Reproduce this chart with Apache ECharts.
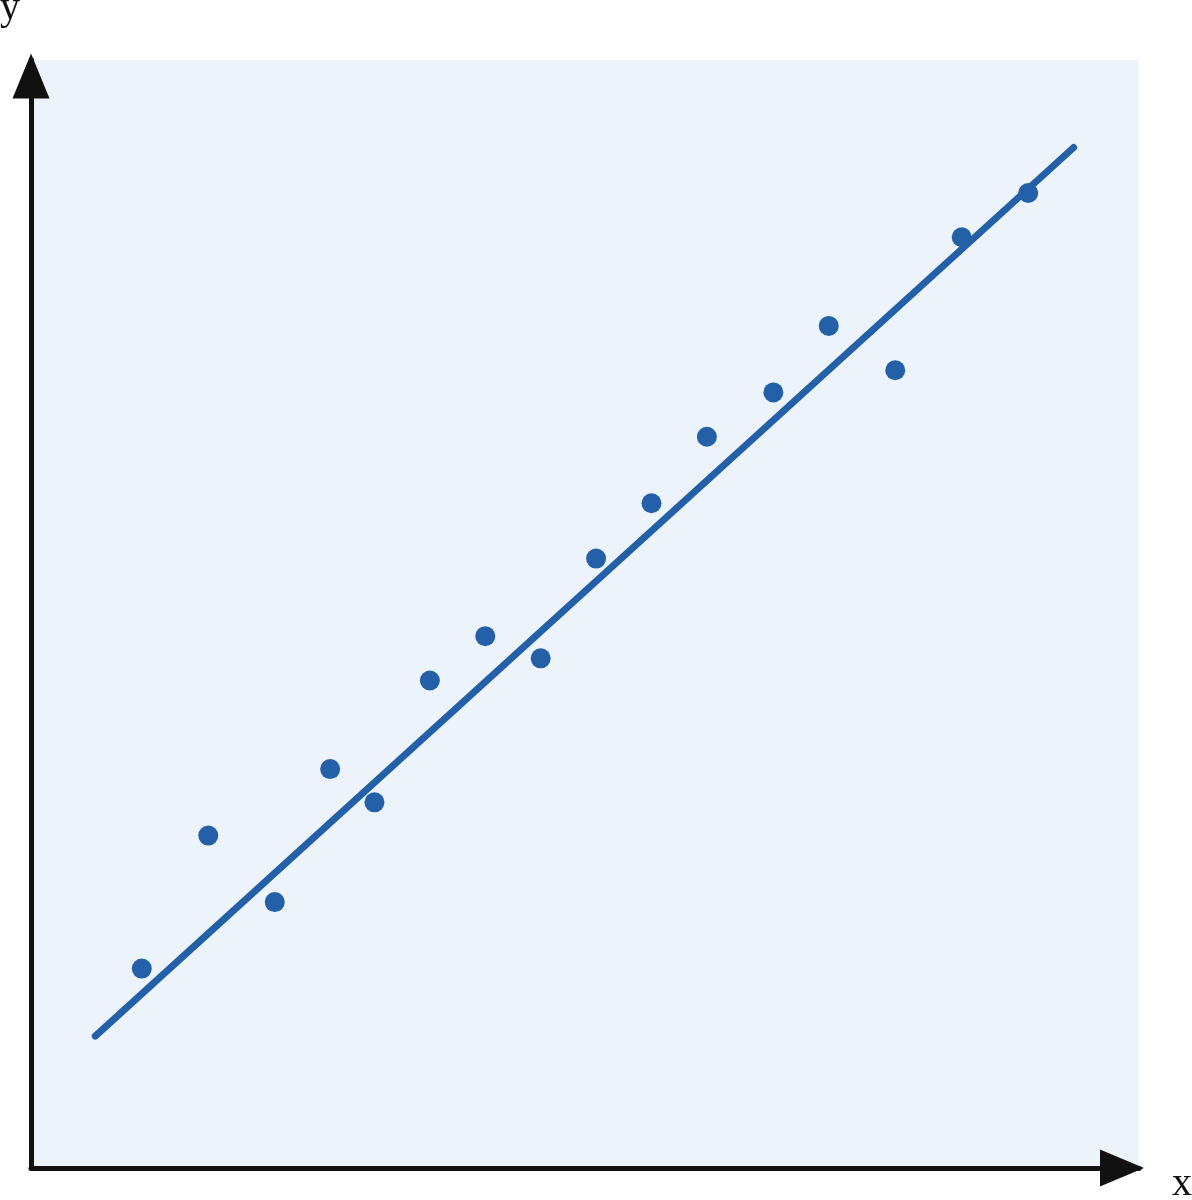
<!DOCTYPE html>
<html>
<head>
<meta charset="utf-8">
<script src="https://cdn.jsdelivr.net/npm/echarts@6/dist/echarts.min.js"></script>
<style>
  html, body { margin: 0; padding: 0; background: #fff; }
  #chart { width: 1192px; height: 1200px; }
</style>
</head>
<body>
<div id="chart"></div>
<script>
// observed points
const xValues = [1.0, 1.6, 2.2, 2.7, 3.1, 3.6, 4.1, 4.6, 5.1, 5.6, 6.1, 6.7, 7.2, 7.8, 8.4, 9.0];
const yValues = [1.8, 3.0, 2.4, 3.6, 3.3, 4.4, 4.8, 4.6, 5.5, 6.0, 6.6, 7.0, 7.6, 7.2, 8.4, 8.8];
// fitted line end points
const fitX = [0.58, 9.41];
const fitY = [1.19, 9.21];

const axisNames = ['x', 'y'];

const blue = '#2360A8';
const ink = '#111111';

const getOptionChart = () => {
  const points = xValues.map((x, i) => [x, yValues[i]]);
  const fit = fitX.map((x, i) => [x, fitY[i]]);
  return {
    animation: false,
    grid: {
      left: 31, right: 53, top: 60, bottom: 32,
      outerBoundsMode: 'none',
      containLabel: false,
      show: true,
      backgroundColor: '#EDF3FA',
      borderWidth: 0
    },
    xAxis: {
      type: 'value',
      min: 0, max: 10,
      name: axisNames[0],
      nameLocation: 'end',
      nameGap: 33,
      nameTextStyle: {
        fontFamily: 'Liberation Serif',
        fontSize: 40,
        color: ink,
        verticalAlign: 'top',
        lineHeight: 32
      },
      axisLine: {
        show: true,
        symbol: ['none', 'triangle'],
        symbolSize: [37, 44],
        symbolOffset: [0, -17],
        lineStyle: { color: ink, width: 5 }
      },
      axisTick: { show: false },
      axisLabel: { show: false },
      splitLine: { show: false }
    },
    yAxis: {
      type: 'value',
      min: 0, max: 10,
      name: axisNames[1],
      nameLocation: 'end',
      nameGap: 32,
      nameTextStyle: {
        fontFamily: 'Liberation Serif',
        fontSize: 40,
        color: ink,
        padding: [0, 42, 0, 0]
      },
      axisLine: {
        show: true,
        symbol: ['none', 'triangle'],
        symbolSize: [37, 45],
        symbolOffset: [0, -16],
        lineStyle: { color: ink, width: 5 }
      },
      axisTick: { show: false },
      axisLabel: { show: false },
      splitLine: { show: false }
    },
    series: [
      {
        type: 'line',
        data: fit,
        symbol: 'none',
        lineStyle: { color: blue, width: 7, cap: 'round' },
        z: 2
      },
      {
        type: 'scatter',
        data: points,
        symbolSize: 20,
        itemStyle: { color: blue, opacity: 1 },
        z: 3
      }
    ]
  };
};

const initCharts = () => {
  const chart = echarts.init(document.getElementById('chart'));
  chart.setOption(getOptionChart());
};

window.addEventListener('load', () => {
  initCharts();
});
</script>
</body>
</html>
